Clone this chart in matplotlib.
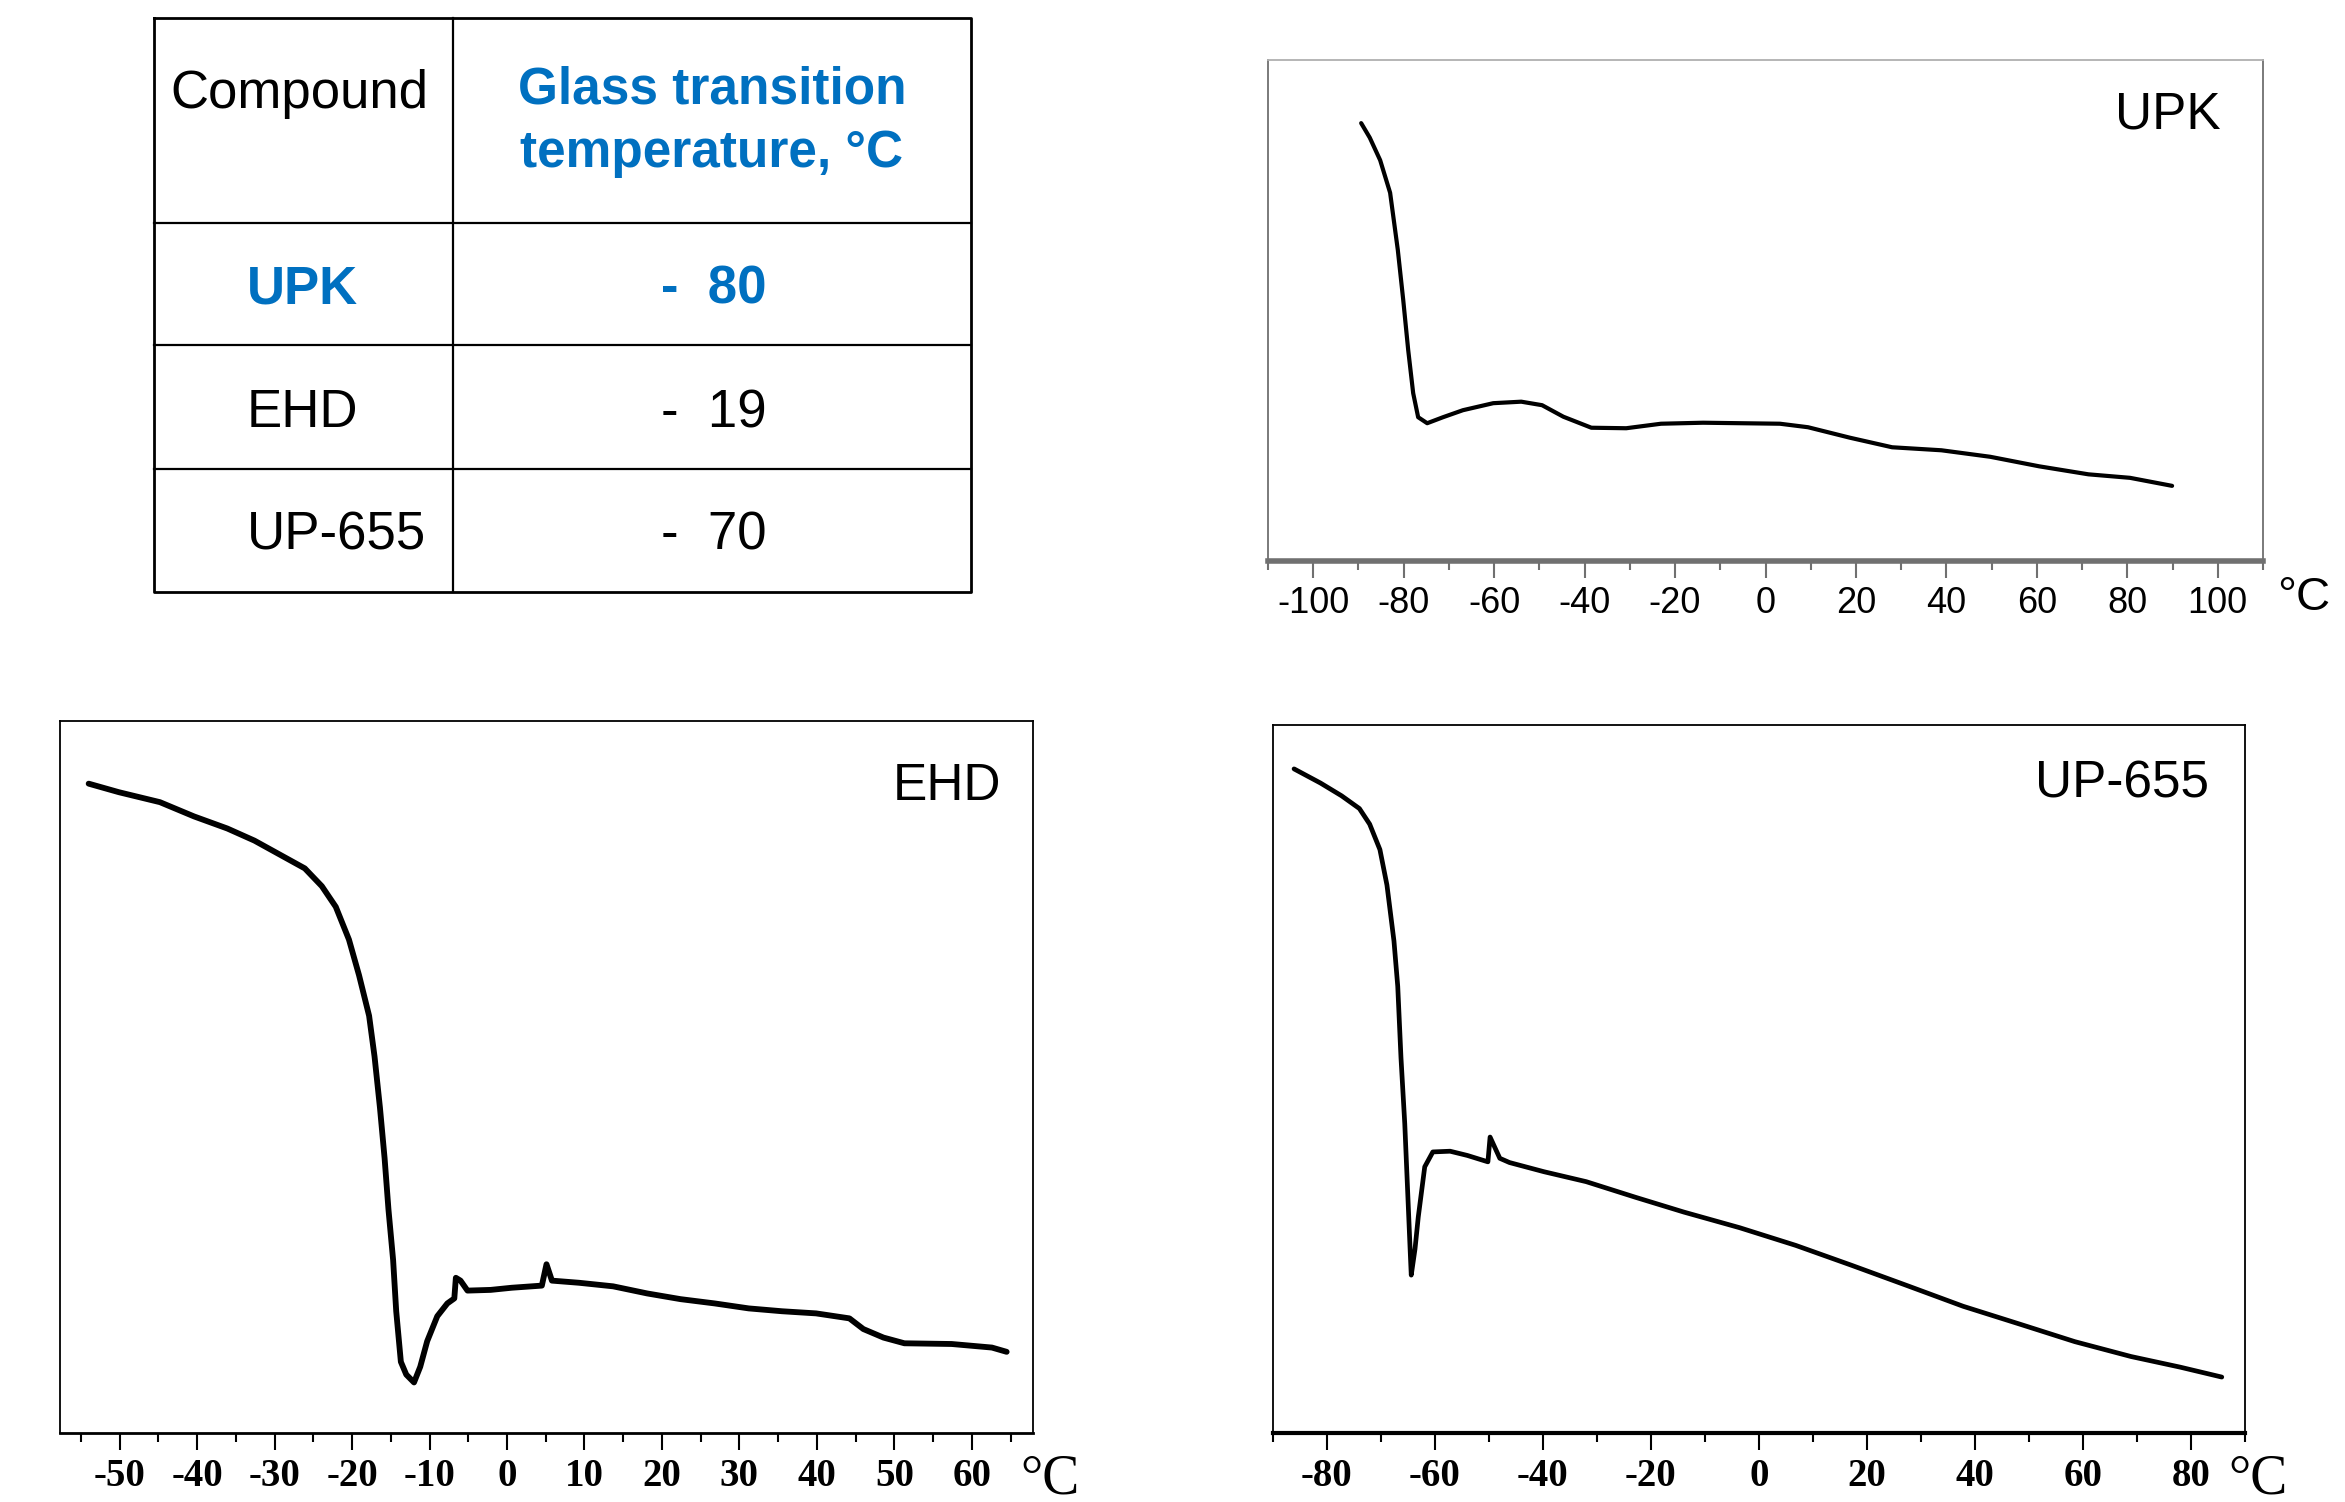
import matplotlib
matplotlib.use('Agg')
import matplotlib.pyplot as plt
from matplotlib.ticker import MultipleLocator

plt.rcParams['axes.unicode_minus'] = False

# table
compounds = ['UPK', 'EHD', 'UP-655']
tg_values = [-80, -19, -70]
row_colors = ['#0070C0', 'black', 'black']
header = ['Compound', 'Glass transition', 'temperature, \u00b0C']

# UPK curve: temperature (C) and signal (% of panel height)
upk_t = [-89.4, -87.5, -85.2, -83.0, -81.3, -80.1, -79.0, -77.9, -76.8, -74.8, -71.3, -66.9,
         -60.2, -54.0, -49.4, -44.7, -38.5, -30.8, -23.1, -13.8, 3.2, 9.4, 18.7, 28.0,
         38.9, 49.7, 60.5, 71.4, 80.6, 89.9]
upk_y = [87.4, 84.5, 80.0, 73.5, 62.1, 52.1, 42.1, 33.5, 28.7, 27.5, 28.7, 30.1,
         31.5, 31.8, 31.1, 28.8, 26.6, 26.5, 27.4, 27.6, 27.4, 26.7, 24.6, 22.7,
         22.1, 20.8, 18.9, 17.3, 16.6, 15.0]

# EHD curve
ehd_t = [-54.0, -50.1, -44.8, -40.4, -36.1, -32.6, -29.1, -26.1, -23.9, -22.1,
         -20.4, -19.1, -17.8, -17.1, -16.4, -15.8, -15.3, -14.7, -14.3, -13.7,
         -13.0, -12.0, -11.2, -10.3, -9.0, -7.7, -6.8, -6.6, -6.0, -5.1,
         -2.1, 0.6, 4.5, 5.1, 5.8, 9.3, 13.7, 18.1, 22.4, 26.8,
         31.2, 35.5, 39.9, 44.2, 46.0, 48.6, 51.3, 57.4, 62.6, 64.5]
ehd_y = [91.2, 90.0, 88.6, 86.6, 84.9, 83.2, 81.1, 79.3, 76.8, 73.9,
         69.3, 64.3, 58.6, 52.9, 45.7, 38.6, 31.4, 24.3, 17.1, 10.0,
         8.2, 7.1, 9.3, 12.9, 16.4, 18.2, 18.9, 21.8, 21.4, 20.0,
         20.1, 20.4, 20.7, 23.7, 21.4, 21.1, 20.6, 19.6, 18.8, 18.2,
         17.5, 17.1, 16.8, 16.1, 14.6, 13.4, 12.6, 12.5, 12.0, 11.4]

# UP-655 curve
up_t = [-86.1, -81.2, -77.3, -74.0, -72.1, -70.2, -68.9, -67.6, -66.9, -66.3,
        -65.6, -65.0, -64.6, -64.4, -63.7, -63.1, -61.9, -60.4, -57.2, -54.0,
        -50.2, -49.8, -48.0, -46.2, -39.8, -32.0, -22.9, -13.9, -3.6, 6.8,
        17.1, 27.5, 37.8, 48.2, 58.5, 68.9, 78.0, 85.7]
up_y = [93.8, 91.8, 90.0, 88.2, 86.0, 82.4, 77.4, 69.5, 63.1, 53.0,
        43.7, 33.0, 25.8, 22.3, 26.0, 30.5, 37.6, 39.7, 39.8, 39.2,
        38.3, 41.8, 38.8, 38.2, 36.9, 35.5, 33.3, 31.2, 29.0, 26.5,
        23.7, 20.8, 17.9, 15.4, 12.9, 10.8, 9.3, 7.9]

W, H = 2345, 1502
fig = plt.figure(figsize=(W / 100, H / 100), dpi=100)

sans = 'Liberation Sans'
serif = 'Liberation Serif'


def box(x0, y0, x1, y1):
    # pixel box (top-left origin) -> figure fraction
    return [x0 / W, 1 - y1 / H, (x1 - x0) / W, (y1 - y0) / H]


def panel(rect, t, y, xlim, major, minor, spine_color, bottom_lw, lw):
    ax = fig.add_axes(box(*rect))
    ax.plot(t, y, color='black', lw=lw, solid_capstyle='round', solid_joinstyle='round')
    ax.set_xlim(*xlim)
    ax.set_ylim(0, 100)
    ax.set_yticks([])
    ax.xaxis.set_major_locator(MultipleLocator(major))
    ax.xaxis.set_minor_locator(MultipleLocator(minor))
    for s in ax.spines.values():
        s.set_color(spine_color)
        s.set_linewidth(1.3)
    ax.spines['bottom'].set_linewidth(bottom_lw)
    ax.tick_params(axis='x', which='major', length=12, width=1.5, color=spine_color, pad=7)
    ax.tick_params(axis='x', which='minor', length=6.5, width=1.5, color=spine_color)
    return ax


# UPK
ax1 = panel((1268, 60, 2263, 561), upk_t, upk_y, (-110, 110), 20, 10, '#707070', 4, 3.0)
ax1.spines['top'].set_color('#b0b0b0')
ax1.tick_params(axis='x', which='major', pad=6)
for lab in ax1.get_xticklabels():
    lab.set_fontfamily(sans)
    lab.set_fontsize(26)

# EHD
ax2 = panel((60, 721, 1033, 1433), ehd_t, ehd_y, (-57.7, 67.9), 10, 5, 'black', 2, 4.2)
# UP-655
ax3 = panel((1273, 725, 2245, 1433), up_t, up_y, (-90, 90), 20, 10, 'black', 3, 3.4)
for ax in (ax2, ax3):
    for lab in ax.get_xticklabels():
        lab.set_fontfamily(serif)
        lab.set_fontweight('bold')
        lab.set_fontsize(28)
    ax.tick_params(axis='x', which='major', pad=6)

# overlay in pixel coordinates for the table and labels
bg = fig.add_axes([0, 0, 1, 1])
bg.set_xlim(0, W)
bg.set_ylim(H, 0)
bg.axis('off')

tl, tr, tt, tb = 154, 971, 18, 592
col = 453
rows = [223, 345, 469]
bg.plot([tl, tr, tr, tl, tl], [tt, tt, tb, tb, tt], color='black', lw=2)
bg.plot([col, col], [tt, tb], color='black', lw=1.6)
for r in rows:
    bg.plot([tl, tr], [r, r], color='black', lw=1.6)

bg.text(170, 94, header[0], fontsize=38, family=sans, va='center', ha='left')
bg.text(712, 90, header[1], fontsize=37, family=sans, weight='bold', color='#0070C0',
        va='center', ha='center')
bg.text(712, 153, header[2], fontsize=37, family=sans, weight='bold', color='#0070C0',
        va='center', ha='center')

row_y = [290, 413, 536]
for name, val, c, yy in zip(compounds, tg_values, row_colors, row_y):
    wt = 'bold' if c != 'black' else 'normal'
    bg.text(247, yy, name, fontsize=38, family=sans, weight=wt, color=c, va='center')
    bg.text(661, yy, '-  %d' % abs(val), fontsize=38, family=sans, weight=wt, color=c,
            va='center')

# panel names
bg.text(2168, 115, 'UPK', fontsize=37, family=sans, ha='center', va='center')
bg.text(947, 787, 'EHD', fontsize=37, family=sans, ha='center', va='center')
bg.text(2122, 784, 'UP-655', fontsize=37, family=sans, ha='center', va='center')

# unit labels
bg.text(2304, 598, '\u00b0C', fontsize=34, family=sans, ha='center', va='center')
bg.text(1050, 1480, '\u00b0C', fontsize=40, family=serif, ha='center', va='center')
bg.text(2258, 1480, '\u00b0C', fontsize=40, family=serif, ha='center', va='center')

fig.savefig('out.png', dpi=100)
